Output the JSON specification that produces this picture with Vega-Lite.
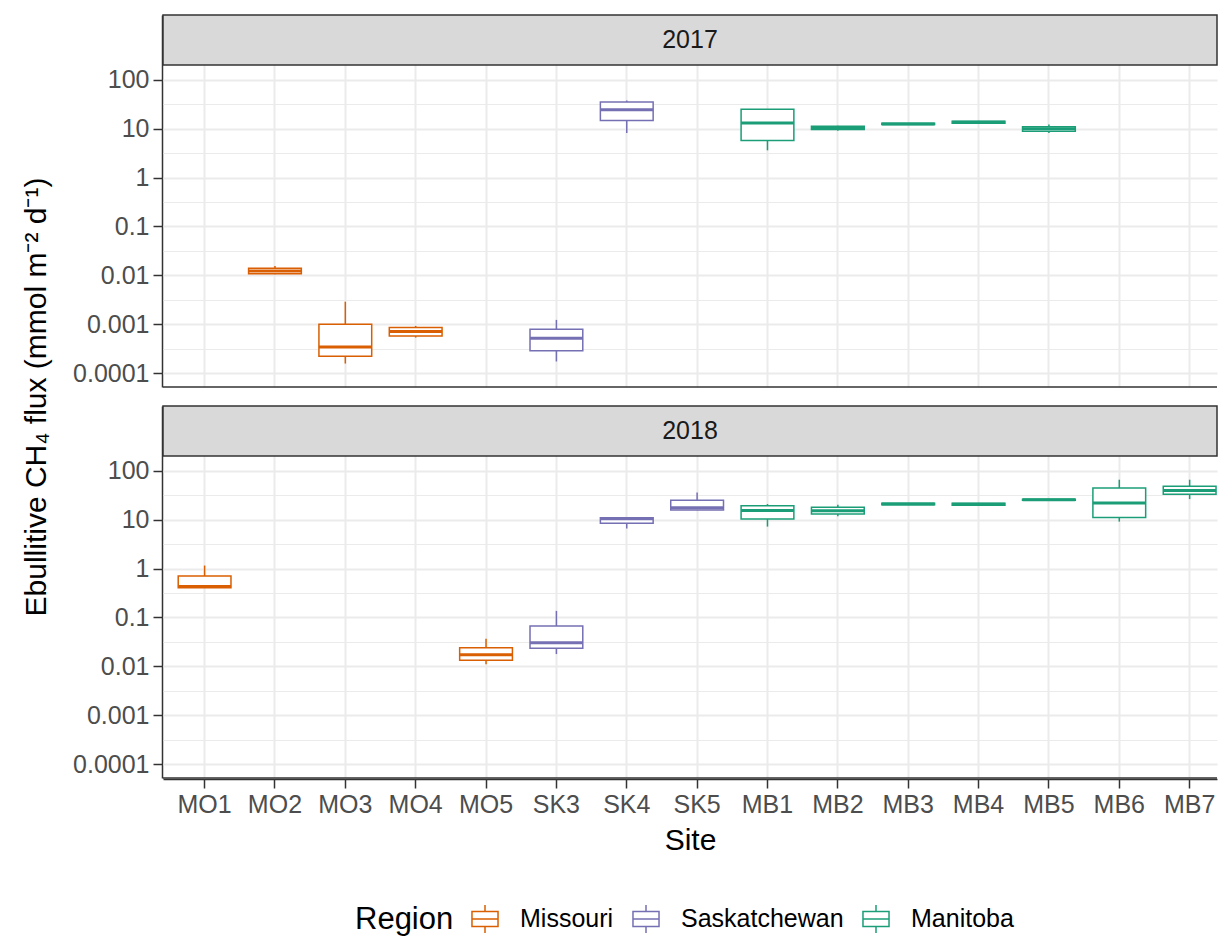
{
  "$schema": "https://vega.github.io/schema/vega-lite/v6.json",
  "background": "white",
  "padding": {"left": 21, "top": 14, "right": 0, "bottom": 2},
  "config": {
    "font": "Liberation Sans",
    "view": {"stroke": null}
  },
  "data": {
    "values": [
      {"kind": "strip", "Year": 2017},
      {"kind": "strip", "Year": 2018},
      {"kind": "box", "Year": 2017, "Site": "MO2", "Region": "Missouri", "min": 0.0105, "q1": 0.0108, "median": 0.0122, "q3": 0.0139, "max": 0.0155},
      {"kind": "box", "Year": 2017, "Site": "MO3", "Region": "Missouri", "min": 0.000157, "q1": 0.000222, "median": 0.000344, "q3": 0.001, "max": 0.00289},
      {"kind": "box", "Year": 2017, "Site": "MO4", "Region": "Missouri", "min": 0.000533, "q1": 0.000576, "median": 0.000706, "q3": 0.000853, "max": 0.000923},
      {"kind": "box", "Year": 2017, "Site": "SK3", "Region": "Saskatchewan", "min": 0.000173, "q1": 0.000285, "median": 0.000518, "q3": 0.000791, "max": 0.001225},
      {"kind": "box", "Year": 2017, "Site": "SK4", "Region": "Saskatchewan", "min": 8.1, "q1": 14.6, "median": 24.4, "q3": 34.9, "max": 37.8},
      {"kind": "box", "Year": 2017, "Site": "MB1", "Region": "Manitoba", "min": 3.6, "q1": 5.69, "median": 13.0, "q3": 24.8, "max": 24.8},
      {"kind": "box", "Year": 2017, "Site": "MB2", "Region": "Manitoba", "min": 9.0, "q1": 9.6, "median": 10.4, "q3": 11.2, "max": 11.5},
      {"kind": "box", "Year": 2017, "Site": "MB3", "Region": "Manitoba", "min": 12.0, "q1": 12.1, "median": 12.4, "q3": 12.8, "max": 12.9},
      {"kind": "box", "Year": 2017, "Site": "MB4", "Region": "Manitoba", "min": 12.8, "q1": 12.9, "median": 13.5, "q3": 14.2, "max": 14.4},
      {"kind": "box", "Year": 2017, "Site": "MB5", "Region": "Manitoba", "min": 8.1, "q1": 8.8, "median": 9.9, "q3": 10.9, "max": 12.1},
      {"kind": "box", "Year": 2018, "Site": "MO1", "Region": "Missouri", "min": 0.40, "q1": 0.405, "median": 0.43, "q3": 0.706, "max": 1.15},
      {"kind": "box", "Year": 2018, "Site": "MO5", "Region": "Missouri", "min": 0.011, "q1": 0.0133, "median": 0.0173, "q3": 0.024, "max": 0.0366},
      {"kind": "box", "Year": 2018, "Site": "SK3", "Region": "Saskatchewan", "min": 0.0178, "q1": 0.0233, "median": 0.0303, "q3": 0.0664, "max": 0.136},
      {"kind": "box", "Year": 2018, "Site": "SK4", "Region": "Saskatchewan", "min": 6.6, "q1": 8.4, "median": 10.4, "q3": 10.9, "max": 11.0},
      {"kind": "box", "Year": 2018, "Site": "SK5", "Region": "Saskatchewan", "min": 15.5, "q1": 15.7, "median": 17.4, "q3": 24.8, "max": 36.0},
      {"kind": "box", "Year": 2018, "Site": "MB1", "Region": "Manitoba", "min": 7.2, "q1": 10.3, "median": 15.3, "q3": 19.3, "max": 20.8},
      {"kind": "box", "Year": 2018, "Site": "MB2", "Region": "Manitoba", "min": 11.7, "q1": 13.1, "median": 15.1, "q3": 17.8, "max": 20.2},
      {"kind": "box", "Year": 2018, "Site": "MB3", "Region": "Manitoba", "min": 20.0, "q1": 20.2, "median": 20.8, "q3": 21.5, "max": 21.7},
      {"kind": "box", "Year": 2018, "Site": "MB4", "Region": "Manitoba", "min": 19.2, "q1": 19.6, "median": 20.5, "q3": 21.6, "max": 22.0},
      {"kind": "box", "Year": 2018, "Site": "MB5", "Region": "Manitoba", "min": 24.5, "q1": 24.8, "median": 25.4, "q3": 26.0, "max": 26.3},
      {"kind": "box", "Year": 2018, "Site": "MB6", "Region": "Manitoba", "min": 9.1, "q1": 11.1, "median": 21.8, "q3": 44.2, "max": 65.5},
      {"kind": "box", "Year": 2018, "Site": "MB7", "Region": "Manitoba", "min": 26.3, "q1": 33.1, "median": 39.6, "q3": 48.3, "max": 65.5}
    ]
  },
  "facet": {
    "row": {"field": "Year", "type": "ordinal",
      "header": {"labels": false, "title": "Ebullitive CH₄ flux (mmol m⁻² d⁻¹)", "titleOrient": "left",
        "titleFontSize": 30, "titleFontWeight": "normal", "titleColor": "#000000", "titlePadding": 10, "titleFont": "Liberation Sans"}}
  },
  "spacing": {"row": 17},
  "spec": {
    "width": 1054,
    "height": 372,
    "layer": [
      {
        "transform": [{"filter": "datum.kind == 'strip'"}],
        "mark": {"type": "rect", "fill": "#D9D9D9", "stroke": "#333333", "strokeWidth": 1.5},
        "encoding": {
          "y": {"datum": 200, "type": "quantitative",
            "scale": {"type": "log", "domain": [0.000052, 2106], "nice": false},
            "axis": {
              "title": null,
              "values": [0.0001, 0.000316, 0.001, 0.00316, 0.01, 0.0316, 0.1, 0.316, 1, 3.16, 10, 31.6, 100],
              "labelExpr": "abs(log(datum.value)/LN10 - round(log(datum.value)/LN10)) < 0.01 ? format(datum.value, '~g') : ''",
              "labelOverlap": false, "labelFontSize": 25, "labelColor": "#4D4D4D", "labelPadding": 4,
              "tickSize": 9, "tickColor": "#333333", "tickWidth": 1.5,
              "tickOpacity": {"condition": {"test": "abs(log(datum.value)/LN10 - round(log(datum.value)/LN10)) < 0.01", "value": 1}, "value": 0},
              "domain": true, "domainColor": "#333333", "domainWidth": 1.5,
              "grid": true, "gridColor": "#EBEBEB",
              "gridWidth": {"condition": {"test": "abs(log(datum.value)/LN10 - round(log(datum.value)/LN10)) < 0.01", "value": 2}, "value": 1}
            }
          },
          "y2": {"datum": 2106}
        }
      },
      {
        "transform": [{"filter": "datum.kind == 'strip'"}],
        "mark": {"type": "text", "fontSize": 25, "color": "#1A1A1A"},
        "encoding": {
          "y": {"datum": 649, "type": "quantitative"},
          "text": {"field": "Year", "type": "nominal"}
        }
      },
      {
        "transform": [{"filter": "datum.kind == 'strip'"}],
        "mark": {"type": "rule", "strokeWidth": 1.5, "color": "#333333"},
        "encoding": {
          "y": {"datum": 0.000052, "type": "quantitative"}
        }
      },
      {
        "transform": [{"filter": "datum.kind == 'box'"}],
        "mark": {"type": "rule", "strokeWidth": 1.5},
        "encoding": {
          "x": {
            "field": "Site", "type": "nominal",
            "scale": {"type": "band", "domain": ["MO1","MO2","MO3","MO4","MO5","SK3","SK4","SK5","MB1","MB2","MB3","MB4","MB5","MB6","MB7"], "paddingInner": 0.25, "paddingOuter": 0.115, "align": 0.94},
            "axis": {"title": "Site", "titleFontSize": 30, "titleFontWeight": "normal", "titleColor": "#000000", "titlePadding": 8,
              "labels": true, "labelFontSize": 25, "labelColor": "#4D4D4D", "labelPadding": 4, "labelAngle": 0,
              "ticks": true, "tickSize": 9, "tickColor": "#333333", "tickWidth": 1.5,
              "domain": true, "domainColor": "#333333", "domainWidth": 1.5,
              "grid": true, "gridColor": "#EBEBEB", "gridWidth": 2, "bandPosition": 0.5}
          },
          "y": {"field": "min", "type": "quantitative"},
          "y2": {"field": "max"},
          "color": {"field": "Region", "type": "nominal",
            "scale": {"domain": ["Missouri", "Saskatchewan", "Manitoba"], "range": ["#D95F02", "#7570B3", "#1B9E77"]},
            "legend": {"orient": "none", "legendX": 192, "legendY": 889, "direction": "horizontal", "titleOrient": "left", "title": "Region",
              "symbolType": "M-0.93,-0.54H0.93V0.54H-0.93Z M-0.93,0H0.93 M0,-1V-0.54 M0,0.54V1",
              "symbolSize": 784, "symbolStrokeWidth": 1.5, "symbolFillColor": "white",
              "labelFontSize": 25, "labelColor": "#000000", "labelLimit": 0, "titleFontSize": 31, "titleFontWeight": "normal", "titleColor": "#000000",
              "columnPadding": 15, "labelOffset": 20, "titlePadding": 16}
          }
        }
      },
      {
        "transform": [{"filter": "datum.kind == 'box'"}],
        "mark": {"type": "bar", "filled": false, "fill": "white", "strokeWidth": 1.5},
        "encoding": {
          "x": {"field": "Site", "type": "nominal"},
          "y": {"field": "q1", "type": "quantitative"},
          "y2": {"field": "q3"},
          "color": {"field": "Region", "type": "nominal"}
        }
      },
      {
        "transform": [{"filter": "datum.kind == 'box'"}],
        "mark": {"type": "bar", "filled": false, "strokeWidth": 3},
        "encoding": {
          "x": {"field": "Site", "type": "nominal"},
          "y": {"field": "median", "type": "quantitative"},
          "y2": {"field": "median"},
          "color": {"field": "Region", "type": "nominal"}
        }
      }
    ]
  }
}
